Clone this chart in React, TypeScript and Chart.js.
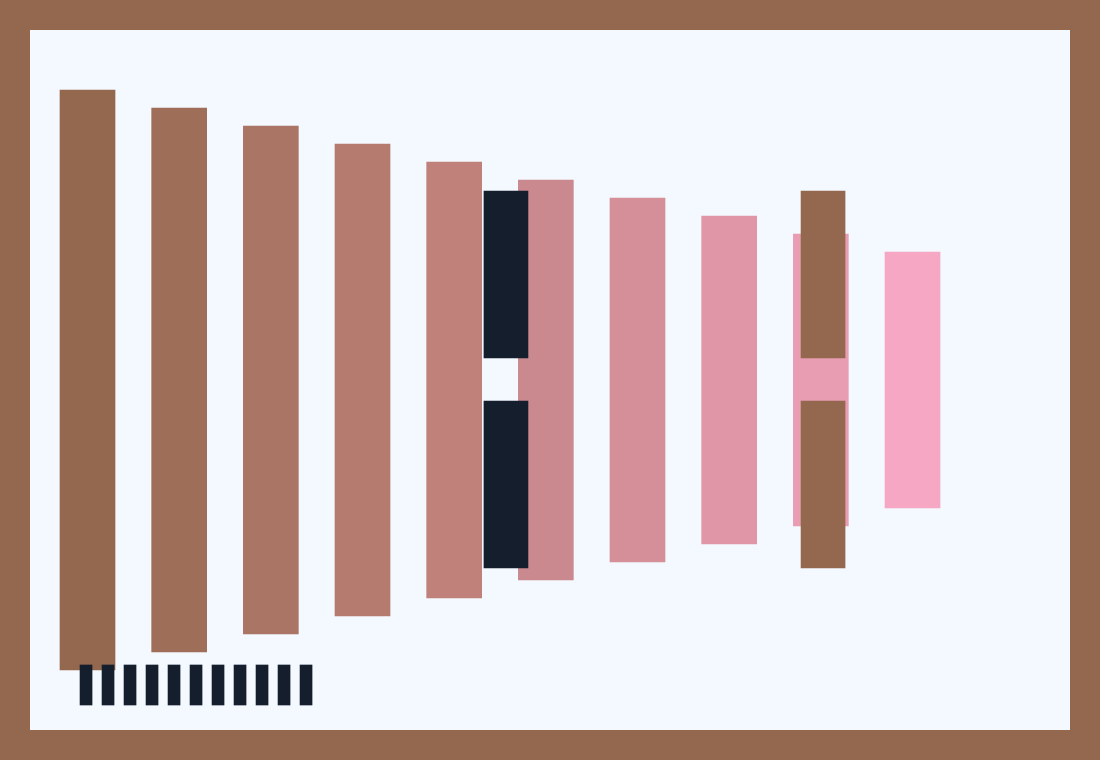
import React, { useEffect, useRef } from "react";
import { Chart, registerables } from "chart.js";

Chart.register(...registerables);

// Main floating bars: category index and symmetric [low, high] ranges
const barIndex = [0, 1, 2, 3, 4, 5, 6, 7, 8, 9];
const barLow = [-290, -272, -254, -236, -218, -200, -182, -164, -146, -128];
const barHigh = [290, 272, 254, 236, 218, 200, 182, 164, 146, 128];
const barColors = [
  "#93684E", "#9E6E59", "#AA7564", "#B57B6F", "#C0817A",
  "#CA898E", "#D48F99", "#E096A7", "#E99DB3", "#F5A7C4",
];

// Paired "pause" blocks
const navyPos = [4.565, 4.565];
const navyRanges: [number, number][] = [[22, 189], [-188, -21]];
const brownPos = [8.024, 8.024];
const brownRanges: [number, number][] = [[22, 189], [-188, -21]];

// Small tick marks along the bottom
const tickPos = [-0.016, 0.224, 0.464, 0.704, 0.944, 1.184, 1.424, 1.664, 1.904, 2.144, 2.384];
const tickRange: [number, number] = [-325, -285];

export default function App() {
  const ref = useRef<HTMLCanvasElement | null>(null);
  useEffect(() => {
    if (!ref.current) return;
    const chart = new Chart(ref.current, {
      type: "bar",
      data: {
        datasets: [
          {
            label: "ticks",
            data: tickPos.map((x) => ({ x, y: tickRange })),
            backgroundColor: "#141E2D",
            barThickness: 12,
            grouped: false,
            order: 0,
          } as any,
          {
            label: "navy",
            data: navyPos.map((x, i) => ({ x, y: navyRanges[i] })),
            backgroundColor: "#141E2D",
            barThickness: 44,
            grouped: false,
            order: 1,
          } as any,
          {
            label: "brown",
            data: brownPos.map((x, i) => ({ x, y: brownRanges[i] })),
            backgroundColor: "#93684E",
            barThickness: 44,
            grouped: false,
            order: 1,
          } as any,
          {
            label: "bars",
            data: barIndex.map((x, i) => ({ x, y: [barLow[i], barHigh[i]] })),
            backgroundColor: barColors,
            barThickness: 55,
            grouped: false,
            order: 2,
          } as any,
        ],
      },
      options: {
        animation: false,
        responsive: false,
        maintainAspectRatio: false,
        layout: { padding: 0 },
        plugins: { legend: { display: false }, tooltip: { enabled: false } },
        scales: {
          x: { type: "linear", min: -0.6273, max: 10.718, offset: false, display: false },
          y: { type: "linear", min: -350, max: 350, display: false },
        },
      },
    });
    return () => chart.destroy();
  }, []);
  return (
    <div
      style={{
        position: "fixed",
        left: 0,
        top: 0,
        width: 1100,
        height: 760,
        boxSizing: "border-box",
        border: "30px solid #93684E",
        background: "#F4F8FF",
      }}
    >
      <canvas ref={ref} width={1040} height={700} style={{ display: "block", width: 1040, height: 700 }} />
    </div>
  );
}
